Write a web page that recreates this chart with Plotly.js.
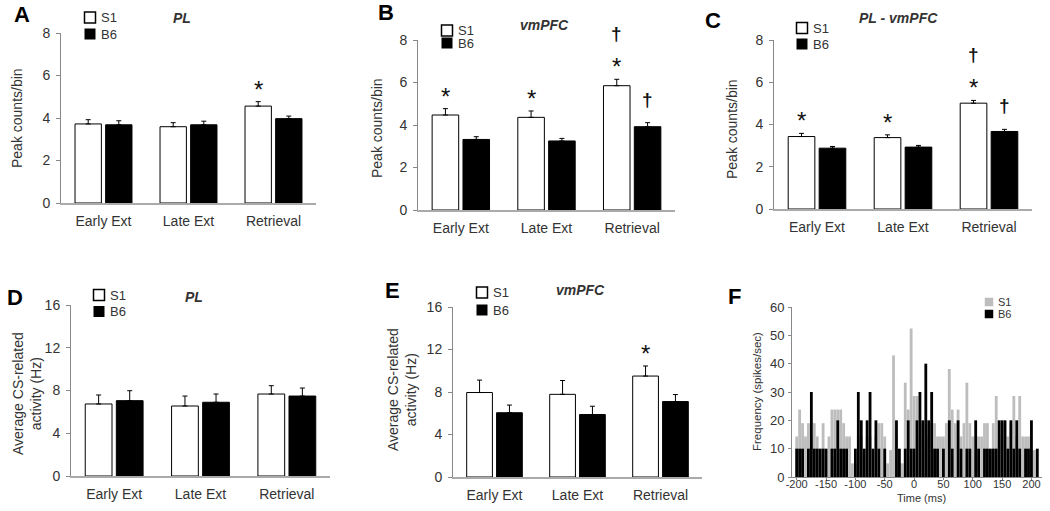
<!DOCTYPE html>
<html><head><meta charset="utf-8">
<script src="https://cdn.plot.ly/plotly-3.0.1.min.js"></script>
<style>html,body{margin:0;padding:0;background:#fff}#chart{width:1050px;height:511px}</style>
</head><body><div id="chart"></div>
<script>
// ---------------- DATA ----------------
const categories = ["Early Ext", "Late Ext", "Retrieval"];
const seriesNames = ["S1", "B6"];

// A: PL peak counts/bin
const peakPL_S1 = [3.72, 3.59, 4.56];
const peakPL_S1_err = [0.20, 0.19, 0.21];
const peakPL_B6 = [3.68, 3.68, 3.97];
const peakPL_B6_err = [0.19, 0.17, 0.12];
const peakPL_S1_sig = [[], [], ["*"]];
const peakPL_B6_sig = [[], [], []];

// B: vmPFC peak counts/bin
const peakVM_S1 = [4.47, 4.36, 5.85];
const peakVM_S1_err = [0.30, 0.30, 0.30];
const peakVM_B6 = [3.32, 3.25, 3.92];
const peakVM_B6_err = [0.13, 0.12, 0.19];
const peakVM_S1_sig = [["*"], ["*"], ["*", "†"]];
const peakVM_B6_sig = [[], [], ["†"]];

// C: PL - vmPFC peak counts/bin
const peakPV_S1 = [3.43, 3.38, 5.01];
const peakPV_S1_err = [0.15, 0.13, 0.13];
const peakPV_B6 = [2.88, 2.93, 3.67];
const peakPV_B6_err = [0.08, 0.08, 0.10];
const peakPV_S1_sig = [["*"], ["*"], ["*", "†"]];
const peakPV_B6_sig = [[], [], ["†"]];

// D: PL average CS-related activity (Hz)
const csPL_S1 = [6.74, 6.55, 7.67];
const csPL_S1_err = [0.84, 0.93, 0.78];
const csPL_B6 = [7.05, 6.90, 7.48];
const csPL_B6_err = [0.93, 0.77, 0.75];
const csPL_S1_sig = [[], [], []];
const csPL_B6_sig = [[], [], []];

// E: vmPFC average CS-related activity (Hz)
const csVM_S1 = [7.95, 7.78, 9.50];
const csVM_S1_err = [1.17, 1.30, 0.95];
const csVM_B6 = [6.05, 5.88, 7.10];
const csVM_B6_err = [0.72, 0.78, 0.66];
const csVM_S1_sig = [[], [], ["*"]];
const csVM_B6_sig = [[], [], []];

// F: peri-event histogram (5 ms bins)
const histTime = [-200,-195,-190,-185,-180,-175,-170,-165,-160,-155,-150,-145,-140,-135,-130,-125,-120,-115,-110,-105,
  -100,-95,-90,-85,-80,-75,-70,-65,-60,-55,-50,-45,-40,-35,-30,-25,-20,-15,-10,-5,
  0,5,10,15,20,25,30,35,40,45,50,55,60,65,70,75,80,85,90,95,
  100,105,110,115,120,125,130,135,140,145,150,155,160,165,170,175,180,185,190,195,200,205,210];
const histS1 = [14.3,23.8,19.0,14.3,19.0,14.3,19.0,14.3,9.5,19.0,9.5,14.3,23.8,23.8,23.8,23.8,19.0,14.3,14.3,4.8,
  4.8,14.3,14.3,9.5,14.3,14.3,9.5,14.3,19.0,19.0,14.3,4.8,9.5,42.9,14.3,4.8,4.8,33.3,23.8,52.4,
  28.6,28.6,14.3,19.0,9.5,14.3,19.0,19.0,14.3,14.3,14.3,19.0,38.1,23.8,19.0,23.8,14.3,19.0,33.3,19.0,
  14.3,9.5,14.3,14.3,19.0,19.0,9.5,19.0,28.6,14.3,19.0,9.5,14.3,19.0,28.6,14.3,28.6,14.3,14.3,14.3,9.5,9.5,0];
const histB6 = [10,10,10,0,10,30,10,10,10,10,10,0,10,10,20,10,10,10,0,0,
  10,30,20,10,20,30,10,20,10,0,10,0,0,0,20,10,0,10,20,10,
  10,20,30,20,40,20,30,10,10,0,10,0,20,10,0,20,10,0,10,10,
  0,20,10,0,10,10,10,10,10,20,20,20,10,20,10,20,10,0,10,10,20,0,10];
const histTickVals = [-200,-150,-100,-50,0,50,100,150,200];
const histTickText = ["-200","-150","-100","-50","0","50","100","150","200"];

// ---------------- LAYOUT HELPERS ----------------
const W = 1050, H = 511;
const PX = x => x / W;
const PY = y => 1 - y / H;
const FONT = "Liberation Sans, Arial, sans-serif";
const NARROW = "Liberation Sans Narrow, Liberation Sans, Arial, sans-serif";
const TXT = "#333";
const BAR_W = 0.31, OFF_S1 = -0.335, OFF_B6 = 0.025;

const panels = [
  {letter:"A", region:"PL", ytitle:"Peak counts/bin", ymax:8, dtick:2,
   s1:peakPL_S1, s1e:peakPL_S1_err, b6:peakPL_B6, b6e:peakPL_B6_err, s1sig:peakPL_S1_sig, b6sig:peakPL_B6_sig,
   box:[61,316,33,203], letterPos:[22,14.5], titlePos:[182,18], leg:{x:90,y1:17.5,y2:34}, yt:[17,118]},
  {letter:"B", region:"vmPFC", ytitle:"Peak counts/bin", ymax:8, dtick:2,
   s1:peakVM_S1, s1e:peakVM_S1_err, b6:peakVM_B6, b6e:peakVM_B6_err, s1sig:peakVM_S1_sig, b6sig:peakVM_B6_sig,
   box:[418,675,40,210], letterPos:[386,12.5], titlePos:[544,25], leg:{x:447,y1:30.5,y2:43}, yt:[377,128]},
  {letter:"C", region:"PL - vmPFC", ytitle:"Peak counts/bin", ymax:8, dtick:2,
   s1:peakPV_S1, s1e:peakPV_S1_err, b6:peakPV_B6, b6e:peakPV_B6_err, s1sig:peakPV_S1_sig, b6sig:peakPV_B6_sig,
   box:[774,1032,40,209],  letterPos:[713,20.5], titlePos:[898,18], leg:{x:802,y1:28,y2:44}, yt:[732,129]},
  {letter:"D", region:"PL", ytitle:"Average CS-related<br>activity (Hz)", ymax:16, dtick:4,
   s1:csPL_S1, s1e:csPL_S1_err, b6:csPL_B6, b6e:csPL_B6_err, s1sig:csPL_S1_sig, b6sig:csPL_B6_sig,
   box:[71,330,305,476], letterPos:[15,297], titlePos:[194,297], leg:{x:99,y1:295,y2:311.5}, yt:[27,394]},
  {letter:"E", region:"vmPFC", ytitle:"Average CS-related<br>activity (Hz)", ymax:16, dtick:4,
   s1:csVM_S1, s1e:csVM_S1_err, b6:csVM_B6, b6e:csVM_B6_err, s1sig:csVM_S1_sig, b6sig:csVM_B6_sig,
   box:[453,702,307,477], letterPos:[392,290], titlePos:[580,290], leg:{x:482,y1:292.5,y2:310}, yt:[402,390]}
];

const traces = [];
const layout = {
  width: W, height: H,
  margin: {l:0, r:0, t:0, b:0},
  paper_bgcolor: "#fff", plot_bgcolor: "#fff",
  font: {family: FONT, size: 13, color: TXT},
  showlegend: false,
  barmode: "overlay",
  bargap: 0.04,
  annotations: [], shapes: []
};

function addText(x, y, text, size, opts) {
  layout.annotations.push(Object.assign({
    xref: "paper", yref: "paper", x: PX(x), y: PY(y), text: text, showarrow: false,
    xanchor: "center", yanchor: "middle", font: {family: FONT, size: size, color: TXT}
  }, opts || {}));
}
function legendItem(cx, cy, name, fill, line, size, tx, fsize) {
  const h = size / 2;
  layout.shapes.push({type: "rect", xref: "paper", yref: "paper",
    x0: PX(cx - h), x1: PX(cx + h), y0: PY(cy + h), y1: PY(cy - h),
    fillcolor: fill, line: {color: line, width: line === fill ? 0 : 1.5}});
  addText(tx, cy, name, fsize, {xanchor: "left", font: {family: FONT, size: fsize, color: TXT}});
}

panels.forEach((p, i) => {
  const n = i + 1;
  const xa = "x" + n, ya = "y" + n;
  const xk = "xaxis" + n, yk = "yaxis" + n;
  const [x0, x1, yTop, yBot] = p.box;
  layout[xk] = {domain: [PX(x0), PX(x1)], anchor: ya, type: "category", range: [-0.5, 2.5],
    showline: true, linecolor: "#aaa", linewidth: 1.5, ticks: "", showgrid: false, zeroline: false,
    tickfont: {family: FONT, size: 14, color: TXT}, ticklabelstandoff: 5, fixedrange: true};
  layout[yk] = {domain: [PY(yBot), PY(yTop)], anchor: xa, range: [0, p.ymax], dtick: p.dtick, tick0: 0,
    showline: true, linecolor: "#888", linewidth: 1, ticks: "outside", ticklen: 4, tickcolor: "#888",
    showgrid: false, zeroline: false, tickfont: {family: FONT, size: 14, color: TXT}, ticklabelstandoff: 3, fixedrange: true};

  const zeros = p.s1e.map(() => 0);
  traces.push({type: "bar", name: seriesNames[0], x: categories, y: p.s1, xaxis: xa, yaxis: ya,
    width: BAR_W, offset: OFF_S1,
    marker: {color: "#fff", line: {color: "#000", width: 1}},
    error_y: {type: "data", array: p.s1e, arrayminus: zeros, symmetric: false, color: "#000", thickness: 1, width: 2.5}});
  traces.push({type: "bar", name: seriesNames[1], x: categories, y: p.b6, xaxis: xa, yaxis: ya,
    width: BAR_W, offset: OFF_B6,
    marker: {color: "#000", line: {color: "#000", width: 1}},
    error_y: {type: "data", array: p.b6e, arrayminus: zeros, symmetric: false, color: "#000", thickness: 1, width: 2.5}});

  // significance markers
  const addSig = (vals, errs, sigs, off) => {
    sigs.forEach((list, ci) => {
      list.forEach((sym, lvl) => {
        const isStar = sym === "*";
        layout.annotations.push({xref: xa, yref: ya, x: ci + off + BAR_W / 2, y: vals[ci] + errs[ci],
          text: isStar ? sym : "<b>" + sym + "</b>", showarrow: false, xanchor: "center", yanchor: "bottom",
          yshift: (isStar ? -3 : 11) + lvl * 22,
          font: {family: FONT, size: isStar ? 24 : 19, color: "#111"}});
      });
    });
  };
  addSig(p.s1, p.s1e, p.s1sig, OFF_S1);
  addSig(p.b6, p.b6e, p.b6sig, OFF_B6);

  addText(p.letterPos[0], p.letterPos[1], "<b>" + p.letter + "</b>", 21, {font: {family: FONT, size: 22, color: "#000"}});
  addText(p.titlePos[0], p.titlePos[1], "<b><i>" + p.region + "</i></b>", 14);
  addText(p.yt[0], p.yt[1], p.ytitle, 14, {textangle: -90});
  legendItem(p.leg.x, p.leg.y1, seriesNames[0], "#fff", "#000", 11, p.leg.x + 9, 13);
  legendItem(p.leg.x, p.leg.y2, seriesNames[1], "#000", "#000", 11, p.leg.x + 9, 13);
});

// ---------------- PANEL F ----------------
traces.push({type: "bar", name: seriesNames[0], x: histTime, y: histS1, xaxis: "x6", yaxis: "y6",
  marker: {color: "#bdbdbd", line: {width: 0}}});
traces.push({type: "bar", name: seriesNames[1], x: histTime, y: histB6, xaxis: "x6", yaxis: "y6",
  marker: {color: "#000", line: {width: 0}}});
layout.xaxis6 = {domain: [PX(792), PX(1042)], anchor: "y6", range: [-208, 218],
  tickvals: histTickVals, ticktext: histTickText, ticks: "outside", ticklen: 2, tickcolor: "#888",
  showline: true, linecolor: "#888", linewidth: 1, showgrid: false, zeroline: false,
  tickfont: {family: NARROW, size: 11, color: TXT}, ticklabelstandoff: -5, fixedrange: true};
layout.yaxis6 = {domain: [PY(477), PY(307)], anchor: "x6", range: [0, 60], dtick: 10,
  ticks: "outside", ticklen: 3, tickcolor: "#888", showline: true, linecolor: "#888", linewidth: 1,
  showgrid: false, zeroline: false, tickfont: {family: NARROW, size: 13, color: TXT}, ticklabelstandoff: 1, fixedrange: true};
addText(734, 296, "<b>F</b>", 22, {font: {family: FONT, size: 22, color: "#000"}});
addText(757, 392, "Frequency (spikes/sec)", 11.5, {textangle: -90});
addText(921, 498, "Time (ms)", 11);
legendItem(989, 302, seriesNames[0], "#bdbdbd", "#bdbdbd", 8.5, 996, 11);
legendItem(989, 314, seriesNames[1], "#000", "#000", 8.5, 996, 11);

Plotly.newPlot("chart", traces, layout, {staticPlot: true, displayModeBar: false});
</script>
</body></html>
